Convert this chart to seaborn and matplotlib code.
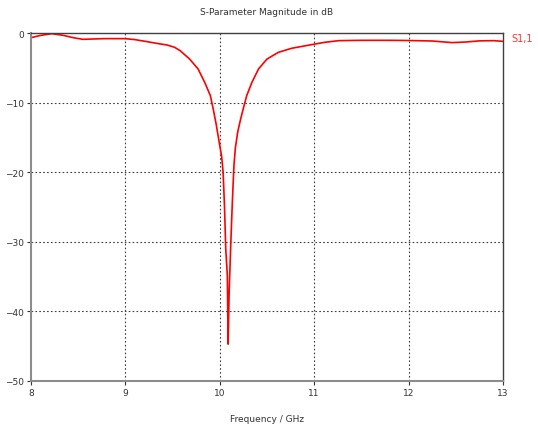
import matplotlib
matplotlib.use("Agg")
import matplotlib.pyplot as plt
import seaborn as sns
import pandas as pd

# S11
freq_ghz = [8.0, 8.1, 8.22, 8.34, 8.45, 8.55, 8.77, 9.0, 9.1, 9.19, 9.27, 9.35,
            9.44, 9.52, 9.58, 9.68, 9.77, 9.84, 9.9, 9.93, 9.96, 10.0,
            10.02, 10.035, 10.05, 10.063, 10.08, 10.088, 10.099, 10.117, 10.134,
            10.15, 10.165, 10.19, 10.22, 10.25, 10.285, 10.34, 10.41, 10.5,
            10.62, 10.76, 10.9, 11.01, 11.11, 11.26, 11.5, 11.8, 12.0, 12.25,
            12.46, 12.6, 12.75, 12.9, 13.0]
s11_db = [-0.67, -0.35, -0.1, -0.33, -0.68, -0.91, -0.81, -0.81, -0.95, -1.15, -1.34, -1.53,
          -1.72, -2.05, -2.54, -3.74, -5.17, -7.09, -9.0, -10.9, -13.0, -16.2,
          -17.8, -20.0, -25.0, -31.0, -34.9, -44.7, -37.3, -30.0, -23.9,
          -19.0, -16.5, -14.2, -12.4, -10.8, -9.0, -7.1, -5.17, -3.74,
          -2.78, -2.2, -1.85, -1.58, -1.34, -1.1, -1.05, -1.05, -1.08, -1.15,
          -1.38, -1.3, -1.13, -1.1, -1.2]

x_ticks = [8, 9, 10, 11, 12, 13]
y_ticks = [0, -10, -20, -30, -40, -50]

df = pd.DataFrame({"f": freq_ghz, "s11": s11_db})

sns.set_style("white")
plt.rcParams["font.family"] = ["DejaVu Sans"]

fig = plt.figure(figsize=(5.38, 4.27), dpi=100)
ax = fig.add_axes([31 / 538, 1 - 382 / 427, 472 / 538, 348 / 427])

sns.lineplot(data=df, x="f", y="s11", color="#ff0000", linewidth=1.2, sort=False, ax=ax)

ax.set_xlim(8, 13)
ax.set_ylim(-50, 0)
ax.set_xticks(x_ticks)
ax.set_yticks(y_ticks)
ax.tick_params(axis="both", labelsize=6.5, colors="#333333", length=3, width=0.8,
               direction="out", bottom=True, left=True, pad=2)

for v in x_ticks[1:-1]:
    ax.axvline(v, color="#404040", lw=0.8, ls=(0, (1.5, 2)), zorder=0)
for v in y_ticks[1:-1]:
    ax.axhline(v, color="#404040", lw=0.8, ls=(0, (1.5, 2)), zorder=0)

for s in ["left", "bottom"]:
    ax.spines[s].set_color("#8c8c8c")
    ax.spines[s].set_linewidth(1.5)
for s in ["top", "right"]:
    ax.spines[s].set_color("#404040")
    ax.spines[s].set_linewidth(1.0)

ax.set_xlabel("Frequency / GHz", fontsize=6.5, color="#333333", labelpad=12)
ax.set_ylabel("")
ax.set_title("S-Parameter Magnitude in dB", fontsize=6.5, color="#333333", pad=14)

ax.text(1.018, 0.985, "S1,1", transform=ax.transAxes, color="#ff3333",
        fontsize=7, ha="left", va="center")

fig.savefig("out.png", dpi=100)
